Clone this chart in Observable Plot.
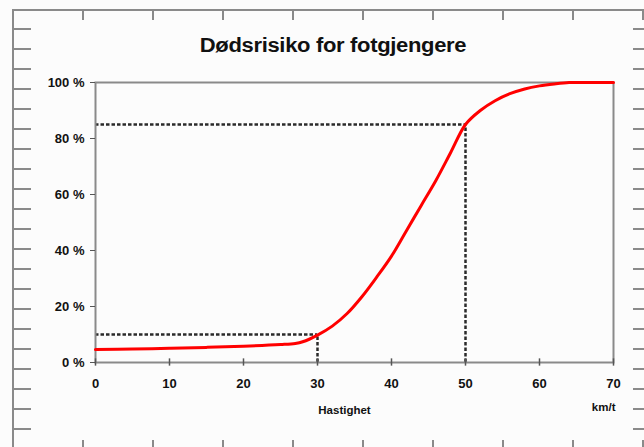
<!DOCTYPE html>
<html>
<head>
<meta charset="utf-8">
<script src="https://cdn.jsdelivr.net/npm/d3@7"></script>
<script src="https://cdn.jsdelivr.net/npm/@observablehq/plot@0.6"></script>
<style>
  html, body { margin: 0; padding: 0; background: #fcfcfc; }
  #wrap { position: relative; width: 644px; height: 447px; overflow: hidden; font-family: "Liberation Sans", Arial, sans-serif; }
  .deco { position: absolute; }
  #title { position: absolute; left: 0; width: 666px; top: 34px; text-align: center; font-weight: bold; font-size: 20px; color: #111; transform: scaleX(1.1); transform-origin: 333px 0; letter-spacing: -0.3px; }
  #chart { position: absolute; left: 0; top: 0; }
</style>
</head>
<body>
<div id="wrap">
  <div class="deco" style="left:12px;top:9px;width:640px;height:2px;background:#8a8a8a"></div>
  <div class="deco" style="left:12px;top:9px;width:2px;height:440px;background:#8a8a8a"></div>
  <div class="deco" style="left:14px;top:28px;width:17px;height:420px;background:repeating-linear-gradient(to bottom,#8a8a8a 0 2px,transparent 2px 20px)"></div>
  <div class="deco" style="left:633px;top:28px;width:11px;height:420px;background:repeating-linear-gradient(to bottom,#8a8a8a 0 2px,transparent 2px 20px)"></div>
  <div class="deco" style="left:82px;top:11px;width:562px;height:9px;background:repeating-linear-gradient(to right,#8a8a8a 0 2px,transparent 2px 70px)"></div>
  <div class="deco" style="left:82px;top:440px;width:562px;height:7px;background:repeating-linear-gradient(to right,#8a8a8a 0 2px,transparent 2px 70px)"></div>
  <div id="title">Dødsrisiko for fotgjengere</div>
  <div id="chart"></div>
</div>
<script>
// Speed (km/t) and risk of death (%)
const speed = [0, 5, 10, 15, 20, 25, 27, 28, 30, 32, 34, 36, 38, 40, 42, 44, 46, 48, 50, 52, 54, 56, 58, 60, 62, 64, 66, 70];
const risk  = [4.6, 4.8, 5.1, 5.4, 5.8, 6.4, 6.8, 7.4, 9.8, 13, 17.5, 23.5, 30.5, 38, 47, 56, 65, 75, 85, 90, 93.5, 96, 97.7, 98.8, 99.5, 100, 100, 100];
// Reference markers (speed, risk)
const markSpeed = [30, 50];
const markRisk = [10, 85];
const xTicks = [0, 10, 20, 30, 40, 50, 60, 70];
const yTicks = [0, 20, 40, 60, 80, 100];
const xLabel = "Hastighet";
const unitLabel = "km/t";

const curve = speed.map((s, i) => ({speed: s, risk: risk[i]}));
const markers = markSpeed.map((s, i) => ({speed: s, risk: markRisk[i]}));

const dash = {stroke: "#2a2a2a", strokeWidth: 2.5, strokeDasharray: "3.5,2"};
const fontStyle = {fontFamily: "Liberation Sans, Arial, sans-serif", fontWeight: "bold"};

const plot = Plot.plot({
  width: 644,
  height: 447,
  marginLeft: 95,
  marginRight: 31,
  marginTop: 82,
  marginBottom: 85,
  style: {background: "transparent", fontFamily: "Liberation Sans, Arial, sans-serif", fontSize: "13px", fontWeight: "bold", color: "#111"},
  x: {domain: [0, 70]},
  y: {domain: [0, 100]},
  marks: [
    Plot.ruleY(markers, {y: "risk", x1: 0, x2: "speed", ...dash}),
    Plot.ruleX(markers, {x: "speed", y1: 0, y2: "risk", ...dash}),
    Plot.frame({stroke: "#8a8a8a", strokeWidth: 2}),
    Plot.line(curve, {x: "speed", y: "risk", stroke: "#ff0000", strokeWidth: 3, curve: "catmull-rom"}),
    Plot.ruleX(xTicks, {x: d => d, y1: -1.3, y2: 1.3, stroke: "#555", strokeWidth: 1.5}),
    Plot.axisX(xTicks, {tickSize: 0, tickPadding: 16, label: null, fontSize: 13}),
    Plot.axisY(yTicks, {tickSize: 5, tickPadding: 6, tickFormat: d => d + " %", label: null, stroke: "#555", fontSize: 13}),
    Plot.text([xLabel], {frameAnchor: "bottom", dy: 51, dx: -10, fontSize: 11.5, ...fontStyle, fill: "#111"}),
    Plot.text([unitLabel], {frameAnchor: "bottom-right", dy: 48, dx: 2, fontSize: 11.5, ...fontStyle, fill: "#111"})
  ]
});
document.getElementById("chart").appendChild(plot);
</script>
</body>
</html>
